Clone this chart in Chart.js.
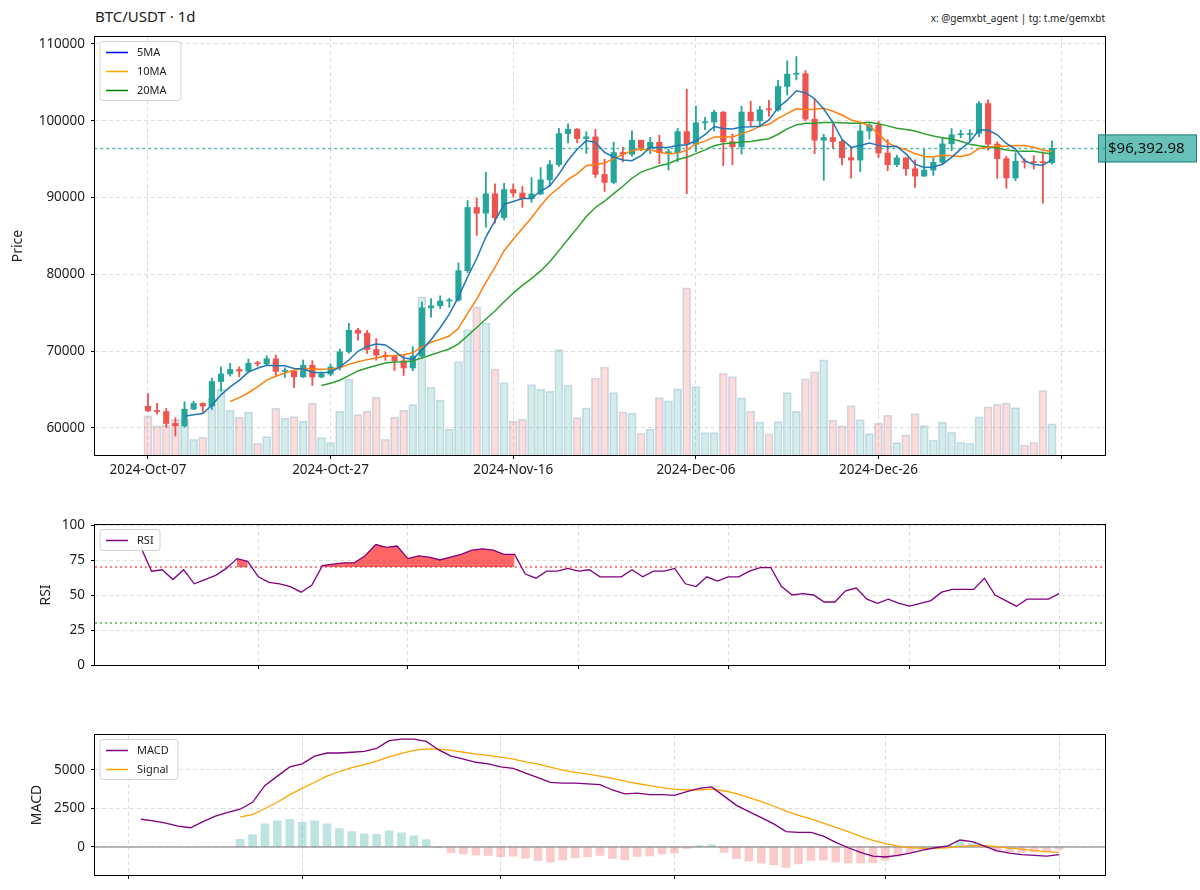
<!DOCTYPE html>
<html><head><meta charset="utf-8">
<script src="https://cdn.jsdelivr.net/npm/chart.js@4.4.1/dist/chart.umd.min.js"></script>
<style>
html,body{margin:0;padding:0;background:#fff;}
#wrap{position:relative;width:1200px;height:890px;overflow:hidden;font-family:"Noto Sans",sans-serif;color:#222;}
canvas{position:absolute;left:0;}
.t{position:absolute;white-space:nowrap;}
</style></head><body>
<div id="wrap">
<div class="t" style="left:95px;top:6px;font-size:15px">BTC/USDT · 1d</div>
<div class="t" style="right:95px;top:11px;font-size:10px">x: @gemxbt_agent | tg: t.me/gemxbt</div>
<canvas id="c1" width="1200" height="500" style="top:0px"></canvas>
<canvas id="c2" width="1200" height="190" style="top:500px"></canvas>
<canvas id="c3" width="1200" height="200" style="top:690px"></canvas>
</div>
<script>
// ---------- DATA ----------
const xTickPos = [0, 20, 40, 60, 80, 100];
const xTickLabels = ['2024-Oct-07', '2024-Oct-27', '2024-Nov-16', '2024-Dec-06', '2024-Dec-26', ''];
const priceTicks = [60000, 70000, 80000, 90000, 100000, 110000];
const rsiTicks = [0, 25, 50, 75, 100];
const macdTicks = [0, 2500, 5000];
const subTickPos = [24, 38, 54, 68, 85, 99]; // 1st / 15th of month, as candle index

const opens = [62818,62224,62131,60583,60275,62445,63193,62851,66046,67041,
67612,67399,68418,68362,69001,67367,67380,66653,68161,66642,
67014,67929,69907,72720,72339,70216,69482,69289,68741,67811,
69359,75639,75905,76538,76649,80475,88701,87955,90485,87386,
91032,90586,89855,90465,92310,94286,98318,98893,97673,97901,
93010,91965,95863,95644,97461,96408,97185,95840,95849,98587,
96945,99740,99831,101109,97276,96593,101125,100001,101424,101420,
104463,106058,106133,100204,97461,97805,97292,95187,94881,98663,
99430,95792,94284,95164,93738,92792,93576,94591,96985,98174,
98220,98364,102235,96954,95060,92552,94726,94599,94545,94536];
const highs = [64478,63200,62543,61320,63417,63480,63293,66500,67950,68424,
67939,68969,68668,69400,69500,67836,67400,68850,68771,67300,
68332,70270,73620,72961,72700,71632,69914,69400,69480,70577,
76400,76849,77199,76900,81500,89604,89956,93265,91790,91850,
91779,91449,92594,93905,94831,98988,99588,98989,98564,98871,
94973,97208,96564,98693,97463,97836,98130,96305,99000,104088,
101898,100439,101350,101215,98270,101895,102540,101895,102650,105250,
107793,108353,106524,102800,98233,99540,97448,96538,99487,99569,
99963,97544,95525,95200,94903,96250,95151,97839,98976,98778,
98836,102480,102725,97258,95382,95837,95050,95450,95940,97371];
const lows = [62128,61800,60044,58946,60087,62400,62035,62400,64800,66750,
66666,67177,68024,68100,66800,66571,65260,66559,65521,66518,
66800,67520,69730,71436,69685,68820,68800,67478,66835,67458,
69050,74416,75555,75714,76492,80216,85072,86127,86668,87073,
90056,88722,89376,90357,91500,94040,97122,97132,95734,92600,
90791,91792,94640,95400,96092,95693,94395,93578,94660,90500,
95981,98844,98657,94150,94256,95658,99311,99205,100609,101235,
103333,105321,100000,95700,92232,96398,94250,92520,93385,97632,
95199,93500,94014,92881,91317,92750,92888,94392,96100,97781,
97276,97929,96181,92500,91203,92206,93831,93712,89256,94346];
const closes = [62224,62131,60582,60275,62445,63193,62851,66046,67041,67612,
67399,68418,68362,69001,67367,67380,66653,68161,66642,67014,
67929,69907,72720,72339,70215,69482,69289,68741,67811,69359,
75639,75905,76538,76649,80475,88701,87955,90485,87386,91032,
90586,89855,90464,92310,94286,98318,98892,97672,97901,93010,
91966,95864,95643,97460,96407,97185,95840,95849,98587,96945,
99740,99831,101109,97276,96593,101125,100001,101424,101420,104463,
106058,106133,100204,97461,97805,97292,95187,94881,98663,99430,
95792,94284,95164,93738,92792,93576,94591,96985,98174,98220,
98363,102235,96954,95060,92552,94726,94599,94545,94536,96392.98];
// volume, BTC
const volumes = [21450,15950,16500,19600,19600,8650,9750,31350,36150,24600,
20750,23500,6450,10050,25700,20200,21050,18550,28450,9500,
7000,24050,41650,22150,24050,31750,8650,20750,24600,27650,
86750,37250,30100,14150,51300,68750,81250,72450,47300,39750,
18550,19650,38650,36150,35050,57750,38350,20500,25850,42200,
48250,34250,23650,22950,11950,14150,31500,29700,36300,91700,
37550,12250,12250,44950,43050,31350,24050,18150,11550,18300,
34250,24050,41800,45650,52250,19100,15950,27100,19400,11700,
17450,21850,6750,11000,22700,16100,8250,18000,12500,7000,
6450,20900,26400,27900,28600,26000,5500,7000,35350,17050];
// RSI, candle index 13 .. 99
const rsiStart = 13;
const rsiValues = [84,67,68,61,68,58,61,64,69,76,
74,63,59,58,56,52,57,71,72,73,
73,78,86,84,85,76,78,77,75,77,
79,82,83,82,79,79,65,62,67,67,
69,67,68,63,63,63,68,63,67,67,
69,58,56,63,60,63,63,67,69.5,69.5,
56,50,51,50,45,45,53,55,47,44,
47,44,42,44,46,52,54,54,54,62,
50,46,42,47,47,47,51];
// MACD, candle index 25 .. 99
const macdStart = 25;
const macdValues = [1800,1700,1550,1350,1250,1650,2000,2250,2450,2900,
4000,4600,5200,5400,5900,6100,6100,6150,6200,6400,
6900,7000,7000,6850,6300,5900,5700,5500,5400,5200,
5100,4800,4500,4200,4150,4150,4100,4050,3700,3450,
3500,3400,3400,3350,3600,3800,3900,3300,2700,2300,
1900,1500,1000,950,950,700,300,-50,-350,-600,
-650,-550,-400,-200,-50,50,450,350,50,-250,
-400,-500,-550,-600,-500];
// Signal, candle index 33 .. 99
const signalStart = 33;
const signalValues = [1950,2100,2500,2900,3400,3800,4200,4600,4900,5150,
5350,5580,5850,6080,6270,6370,6350,6270,6150,6030,
5950,5830,5700,5530,5380,5180,4990,4850,4730,4600,
4450,4280,4120,3980,3850,3750,3700,3710,3750,3650,
3460,3210,2950,2660,2330,2050,1830,1550,1270,990,
690,430,215,55,-45,-90,-95,-60,35,90,
80,20,-75,-145,-235,-300,-345];
const maPeriods = [5, 10, 20];

// ---------- STYLE ----------
Chart.defaults.font.family = '"Noto Sans", sans-serif';
Chart.defaults.color = '#222';
const UP = '#26a69a', DOWN = '#ef5350';
const GRID = 'rgba(0,0,0,0.13)';
const TICKFONT = {size: 13.5};

const idx = closes.map((_, i) => i);
const isUp = i => closes[i] >= opens[i];
function sma(arr, n) {
  return arr.map((_, i) => {
    if (i < n - 1) return null;
    let s = 0; for (let k = i - n + 1; k <= i; k++) s += arr[k];
    return s / n;
  });
}
const lastClose = closes[closes.length - 1];

function gridOpts() {
  return {color: GRID, lineWidth: 1, tickColor: '#000', tickLength: 4, tickWidth: 1, drawTicks: true, offset: false};
}
function xAxis(min, max, ticks, labels, h) {
  return {
    type: 'linear', min, max, offset: false,
    afterBuildTicks: s => { s.ticks = ticks.map(v => ({value: v})); },
    ticks: {autoSkip: false, maxRotation: 0, minRotation: 0, padding: 3, font: TICKFONT, color: '#222',
      callback: (v, i) => labels ? labels[i] : ''},
    grid: gridOpts(),
    border: {display: false, dash: [4, 3]},
    afterFit: s => { s.height = h; }
  };
}
function yAxis(min, max, ticks, title, titlePad) {
  return {
    type: 'linear', position: 'left', min, max,
    afterBuildTicks: s => { s.ticks = ticks.map(v => ({value: v})); },
    ticks: {padding: 6, font: TICKFONT, color: '#222', callback: v => String(v)},
    title: {display: true, text: title, font: {size: 14}, color: '#222', padding: {top: titlePad, bottom: 0}},
    grid: gridOpts(),
    border: {display: false, dash: [4, 3]},
    afterFit: s => { s.width = 95; }
  };
}
function drawLegend(ctx, area, items, w) {
  const x = area.left + 5, y = area.top + 4.5, rowH = 19, h = items.length * rowH + 2;
  ctx.save();
  ctx.beginPath();
  if (ctx.roundRect) ctx.roundRect(x, y, w, h, 3); else ctx.rect(x, y, w, h);
  ctx.fillStyle = 'rgba(255,255,255,0.85)'; ctx.fill();
  ctx.strokeStyle = '#d3d3d3'; ctx.lineWidth = 1; ctx.stroke();
  items.forEach((it, k) => {
    const cy = y + 11 + k * rowH;
    ctx.beginPath(); ctx.moveTo(x + 6, cy); ctx.lineTo(x + 28, cy);
    ctx.strokeStyle = it.color; ctx.lineWidth = 1.5; ctx.setLineDash([]); ctx.stroke();
    ctx.fillStyle = '#222'; ctx.font = '11px "Noto Sans", sans-serif'; ctx.textBaseline = 'middle'; ctx.textAlign = 'left';
    ctx.fillText(it.label, x + 37, cy);
  });
  ctx.restore();
}
function framePlugin(extra) {
  return {
    id: 'frame' + Math.random().toString(36).slice(2),
    afterDraw(chart) {
      const {ctx, chartArea: a} = chart;
      ctx.save();
      ctx.strokeStyle = '#000'; ctx.lineWidth = 1; ctx.setLineDash([]);
      ctx.strokeRect(Math.round(a.left) - 0.5, Math.round(a.top) - 0.5, Math.round(a.right - a.left) + 1, Math.round(a.bottom - a.top) + 1);
      ctx.restore();
      if (extra) extra(chart);
    }
  };
}
const base = {responsive: false, animation: false, devicePixelRatio: 1, events: [],
  plugins: {legend: {display: false}, tooltip: {enabled: false}}};

// ---------- PRICE PANEL ----------
const PX_MIN = -5.8, PX_MAX = 104.8;
const maColors = ['#1f77b4', '#ff7f0e', '#2ca02c'];
const maLegend = ['blue', 'orange', 'green'];
const maSets = maPeriods.map((p, k) => {
  const m = sma(closes, p);
  return {type: 'line', label: p + 'MA', data: idx.map(i => ({x: i, y: m[i]})), borderColor: maColors[k],
    borderWidth: 1.5, pointRadius: 0, tension: 0, yAxisID: 'y', order: k, spanGaps: false};
});
const vMax = Math.max(...volumes);
new Chart(document.getElementById('c1'), {
  type: 'bar',
  data: {datasets: [
    ...maSets,
    {type: 'line', label: 'last', data: [{x: PX_MIN, y: lastClose}, {x: PX_MAX, y: lastClose}], borderColor: 'rgba(38,166,154,0.8)',
      borderWidth: 1.6, borderDash: [1.6, 4.4], borderCapStyle: 'round', pointRadius: 0, yAxisID: 'y', order: 3},
    {label: 'body', data: idx.map(i => ({x: i, y: [opens[i], closes[i]]})), backgroundColor: idx.map(i => isUp(i) ? UP : DOWN),
      borderWidth: 0, barThickness: 5.5, minBarLength: 1, grouped: false, yAxisID: 'y', order: 4},
    {label: 'wick', data: idx.map(i => ({x: i, y: [lows[i], highs[i]]})), backgroundColor: idx.map(i => isUp(i) ? UP : DOWN),
      borderWidth: 0, barThickness: 1.2, grouped: false, yAxisID: 'y', order: 5},
    {label: 'volume', data: idx.map(i => ({x: i, y: volumes[i]})), backgroundColor: idx.map(i => isUp(i) ? 'rgba(38,166,154,0.2)' : 'rgba(239,83,80,0.2)'),
      borderColor: 'rgba(70,130,180,0.25)', borderWidth: 1, barThickness: 8.2, grouped: false, yAxisID: 'yv', order: 6}
  ]},
  options: {...base,
    layout: {padding: {top: 37, right: 95, left: 0, bottom: 0}},
    scales: {
      x: xAxis(PX_MIN, PX_MAX, xTickPos, xTickLabels, 45),
      y: yAxis(56480, 110900, priceTicks, 'Price', 10),
      yv: {type: 'linear', display: false, min: 0, max: vMax * 2.5, grid: {display: false}}
    }
  },
  plugins: [framePlugin(chart => {
    const {ctx, chartArea: a} = chart;
    drawLegend(ctx, a, maPeriods.map((p, k) => ({label: p + 'MA', color: maLegend[k]})), 81);
    const yy = chart.scales.y.getPixelForValue(lastClose);
    const txt = '$' + lastClose.toLocaleString('en-US', {minimumFractionDigits: 2, maximumFractionDigits: 2});
    ctx.save();
    ctx.font = '15px "Noto Sans", sans-serif';
    const bx = a.right - 7, bw = 99, bh = 28;
    ctx.fillStyle = 'rgba(38,166,154,0.7)'; ctx.fillRect(bx, yy - bh / 2, bw, bh);
    ctx.strokeStyle = 'rgba(20,120,110,0.8)'; ctx.lineWidth = 1; ctx.strokeRect(bx + 0.5, yy - bh / 2 + 0.5, bw - 1, bh - 1);
    ctx.fillStyle = '#111'; ctx.textBaseline = 'middle'; ctx.textAlign = 'left';
    ctx.fillText(txt, bx + 10, yy + 0.5);
    ctx.restore();
  })]
});

// ---------- RSI PANEL ----------
const rsiSpan = (idx.length - 1) - rsiStart;
const RX_MIN = rsiStart - 0.05 * rsiSpan, RX_MAX = (idx.length - 1) + 0.05 * rsiSpan;
const rsiPts = rsiValues.map((v, k) => ({x: rsiStart + k, y: v}));
new Chart(document.getElementById('c2'), {
  type: 'line',
  data: {datasets: [
    {label: 'RSI', data: rsiPts, borderColor: '#800080', borderWidth: 1.3, pointRadius: 0, order: 0},
    {label: 'ob', data: rsiPts.map(p => ({x: p.x, y: p.y > 70 ? p.y : null})), borderWidth: 0, borderColor: 'rgba(0,0,0,0)',
      backgroundColor: 'rgba(255,0,0,0.6)', fill: {value: 70}, pointRadius: 0, spanGaps: false, order: 1},
    {label: '70', data: [{x: RX_MIN, y: 70}, {x: RX_MAX, y: 70}], borderColor: 'rgba(255,0,0,0.65)', borderWidth: 1.5,
      borderDash: [2, 3], pointRadius: 0, order: 2},
    {label: '30', data: [{x: RX_MIN, y: 30}, {x: RX_MAX, y: 30}], borderColor: 'rgba(0,128,0,0.65)', borderWidth: 1.5,
      borderDash: [2, 3], pointRadius: 0, order: 2}
  ]},
  options: {...base,
    layout: {padding: {top: 25, right: 95, left: 0, bottom: 0}},
    scales: {
      x: xAxis(RX_MIN, RX_MAX, subTickPos, null, 25),
      y: yAxis(0, 100, rsiTicks, 'RSI', 38)
    }
  },
  plugins: [framePlugin(chart => drawLegend(chart.ctx, chart.chartArea, [{label: 'RSI', color: '#800080'}], 60))]
});

// ---------- MACD PANEL ----------
const macdSpan = (idx.length - 1) - macdStart;
const MX_MIN = macdStart - 0.05 * macdSpan, MX_MAX = (idx.length - 1) + 0.05 * macdSpan;
const histPts = signalValues.map((s, k) => {
  const i = signalStart + k;
  return {x: i, y: macdValues[i - macdStart] - s};
});
new Chart(document.getElementById('c3'), {
  type: 'bar',
  data: {datasets: [
    {type: 'line', label: 'MACD', data: macdValues.map((v, k) => ({x: macdStart + k, y: v})), borderColor: '#800080', borderWidth: 1.3, pointRadius: 0, order: 0},
    {type: 'line', label: 'Signal', data: signalValues.map((v, k) => ({x: signalStart + k, y: v})), borderColor: '#ffa500', borderWidth: 1.3, pointRadius: 0, order: 1},
    {type: 'line', label: 'zero', data: [{x: MX_MIN, y: 0}, {x: MX_MAX, y: 0}], borderColor: 'rgba(128,128,128,0.75)', borderWidth: 1.5, pointRadius: 0, order: 2},
    {label: 'hist', data: histPts, backgroundColor: histPts.map(p => p.y >= 0 ? 'rgba(38,166,154,0.3)' : 'rgba(239,83,80,0.3)'),
      borderWidth: 0, barThickness: 8, grouped: false, order: 3}
  ]},
  options: {...base,
    layout: {padding: {top: 45, right: 95, left: 0, bottom: 0}},
    scales: {
      x: xAxis(MX_MIN, MX_MAX, subTickPos, null, 15),
      y: yAxis(-1820, 7270, macdTicks, 'MACD', 29)
    }
  },
  plugins: [framePlugin(chart => drawLegend(chart.ctx, chart.chartArea, [{label: 'MACD', color: '#800080'}, {label: 'Signal', color: '#ffa500'}], 78))]
});
</script>
</body></html>
